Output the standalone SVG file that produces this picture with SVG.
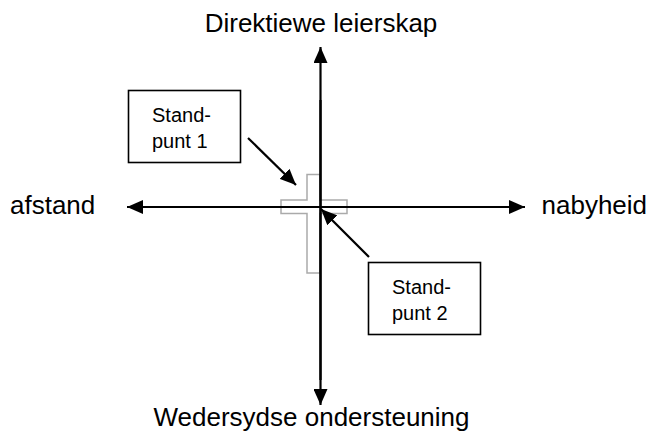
<svg xmlns="http://www.w3.org/2000/svg" width="650" height="434" viewBox="0 0 650 434">
<style>
.t{font-family:"Liberation Sans",Arial,sans-serif;fill:#000}
.lbl{font-size:26px}
.box{font-size:20px}
.ax{stroke:#000;stroke-width:2.2;fill:none}
.rect{fill:#fff;stroke:#000;stroke-width:1.6}
</style>
<defs>
<marker id="ah" markerUnits="userSpaceOnUse" viewBox="0 0 16 14" markerWidth="16" markerHeight="14" refX="16" refY="7" orient="auto">
<path d="M0,0 L16,7 L0,14 Z" fill="#000"/>
</marker>
</defs>
<rect width="650" height="434" fill="#fff"/>
<g id="cross">
<path d="M307,174.5 H320 V200 H347 V213.5 H320 V273 H307 V213.5 H281 V200 H307 Z" fill="none" stroke="#aaa" stroke-width="1.5"/>
</g>
<g id="connectors">
<line class="ax" x1="320.5" y1="380" x2="320.5" y2="47" marker-end="url(#ah)"/>
<line class="ax" x1="320.5" y1="100" x2="320.5" y2="405" marker-end="url(#ah)"/>
<line class="ax" x1="330" y1="207" x2="127" y2="207" marker-end="url(#ah)"/>
<line class="ax" x1="300" y1="207" x2="525" y2="207" marker-end="url(#ah)"/>
<line class="ax" x1="248" y1="138" x2="296" y2="185" marker-end="url(#ah)"/>
<line class="ax" x1="369" y1="257" x2="321" y2="209" marker-end="url(#ah)"/>
</g>
<g id="top"><text class="t lbl" x="321" y="32" text-anchor="middle">Direktiewe leierskap</text></g>
<g id="bottom"><text class="t lbl" x="311.5" y="426" text-anchor="middle">Wedersydse ondersteuning</text></g>
<g id="left"><text class="t lbl" x="10" y="214">afstand</text></g>
<g id="right"><text class="t lbl" x="541.5" y="214">nabyheid</text></g>
<g id="standpunt1">
<rect class="rect" x="128.5" y="90.5" width="112" height="72"/>
<text class="t box" x="152" y="122">Stand-</text>
<text class="t box" x="152" y="148">punt 1</text>
</g>
<g id="standpunt2">
<rect class="rect" x="368.5" y="262.5" width="112" height="72"/>
<text class="t box" x="392" y="294">Stand-</text>
<text class="t box" x="392" y="320">punt 2</text>
</g>
</svg>
